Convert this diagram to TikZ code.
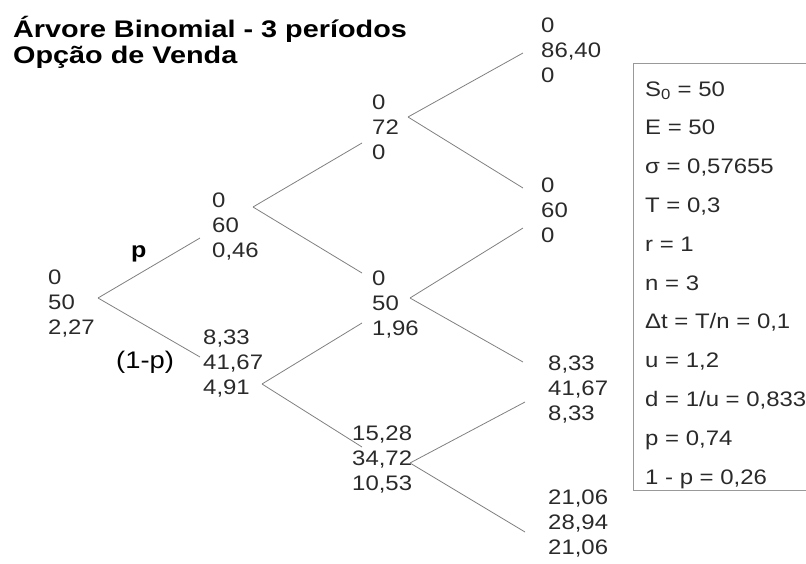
\documentclass[tikz,border=0pt]{standalone}
\usepackage{fontspec}
\setmainfont{Liberation Sans}[FakeStretch=1.14]
\newfontfamily\titlefont{Liberation Sans}[FakeStretch=1.2]
\definecolor{txt}{HTML}{2A2A2A}
\definecolor{edgecol}{HTML}{808080}
\definecolor{framecol}{HTML}{999999}
\begin{document}
\begin{tikzpicture}[x=1pt,y=-1pt,
  val/.style={anchor=north west,inner sep=0pt,align=left,text=txt,font=\fontsize{21}{25}\selectfont},
  param/.style={anchor=base west,inner sep=0pt,text=txt,font=\fontsize{21}{25}\selectfont},
  branch/.style={draw=edgecol,line width=0.8pt},
  ttl/.style={anchor=base west,inner sep=0pt,text=black,font=\titlefont\bfseries\fontsize{24}{26}\selectfont},
  problabel/.style={anchor=base west,inner sep=0pt,text=black,font=\fontsize{24}{28}\selectfont}]
\useasboundingbox (0,0) rectangle (806,563);
\clip (0,0) rectangle (806,563);

% title
\node[ttl] (t1) at (13,37) {Árvore Binomial - 3 períodos};
\node[ttl] (t2) at (13,63) {Opção de Venda};

% tree values
\node[val] (A)    at (48,269.5)  {0\\50\\2,27};
\node[val] (Bu)   at (212,192.5) {0\\60\\0,46};
\node[val] (Bd)   at (203,329.5) {8,33\\41,67\\4,91};
\node[val] (Cuu)  at (372,94.5)  {0\\72\\0};
\node[val] (Cud)  at (372,270.5) {0\\50\\1,96};
\node[val] (Cdd)  at (352,425.5) {15,28\\34,72\\10,53};
\node[val] (Duuu) at (541,17.5)  {0\\86,40\\0};
\node[val] (Duud) at (541,177.5) {0\\60\\0};
\node[val] (Dudd) at (548,355.5) {8,33\\41,67\\8,33};
\node[val] (Dddd) at (548,489.5) {21,06\\28,94\\21,06};

% probability labels
\node[problabel,font=\bfseries\fontsize{22}{26}\selectfont] (lp) at (131,257) {p};
\node[problabel] (lq) at (116,368) {(1-p)};

% junction / end coordinates
\coordinate (Ao) at (98,298);
\coordinate (Bui) at (200,238);
\coordinate (Bdi) at (200,357);
\coordinate (Buo) at (253,207);
\coordinate (Bdo) at (262,384);
\coordinate (Cuui) at (362,143);
\coordinate (Cudi1) at (362,273);
\coordinate (Cudi2) at (362,323);
\coordinate (Cddi) at (362,447);
\coordinate (Cuuo) at (408,117);
\coordinate (Cudo) at (410,298);
\coordinate (Cddo) at (410,463);
\coordinate (Duuui) at (523,53);
\coordinate (Duudi1) at (523,188);
\coordinate (Duudi2) at (523,228);
\coordinate (Duddi1) at (523,362);
\coordinate (Duddi2) at (525,402);
\coordinate (Ddddi) at (525,532);

% branches
\draw[branch] (Ao) -- (Bui);
\draw[branch] (Ao) -- (Bdi);
\draw[branch] (Buo) -- (Cuui);
\draw[branch] (Buo) -- (Cudi1);
\draw[branch] (Bdo) -- (Cudi2);
\draw[branch] (Bdo) -- (Cddi);
\draw[branch] (Cuuo) -- (Duuui);
\draw[branch] (Cuuo) -- (Duudi1);
\draw[branch] (Cudo) -- (Duudi2);
\draw[branch] (Cudo) -- (Duddi1);
\draw[branch] (Cddo) -- (Duddi2);
\draw[branch] (Cddo) -- (Ddddi);

% parameter box
\draw[draw=framecol,line width=1pt] (830,63) -| (633,490) -- (830,490);
\node[param] (p1)  at (645,96)    {S\textsubscript{0} = 50};
\node[param] (p2)  at (645,134.8) {E = 50};
\node[param] (p3)  at (645,173.6) {σ = 0,57655};
\node[param] (p4)  at (645,212.4) {T = 0,3};
\node[param] (p5)  at (645,251.2) {r = 1};
\node[param] (p6)  at (645,290)   {n = 3};
\node[param] (p7)  at (645,328.8) {Δt = T/n = 0,1};
\node[param] (p8)  at (645,367.6) {u = 1,2};
\node[param] (p9)  at (645,406.4) {d = 1/u = 0,833};
\node[param] (p10) at (645,445.2) {p = 0,74};
\node[param] (p11) at (645,484)   {1 - p = 0,26};
\end{tikzpicture}
\end{document}
